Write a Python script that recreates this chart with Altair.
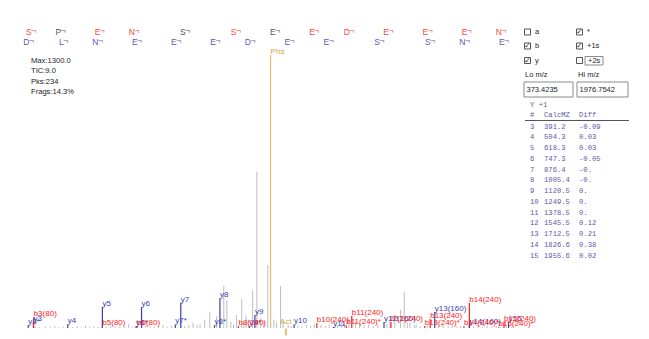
import altair as alt
import pandas as pd

# ---------------- spectrum header values ----------------
lo_mz, hi_mz = 373.4235, 1976.7542
max_intensity = 1300.0
stats_lines = ["Max:1300.0", "TIC:9.0", "Pks:234", "Frags:14.3%"]

# ---------------- y ions, charge +1 ----------------
y_num = [3, 4, 5, 6, 7, 8, 9, 10, 11, 12, 13, 14, 15]
y_calc = [391.2, 504.3, 618.3, 747.3, 876.4, 1005.4, 1120.5, 1249.5,
          1378.5, 1545.5, 1712.5, 1826.6, 1955.6]
y_diff = ["-0.09", "0.03", "0.03", "-0.05", "-0.", "-0.", "0.", "0.",
          "0.", "0.12", "0.21", "0.38", "0.02"]
y_residue = ["D", "L", "N", "E", "E", "E", "D", "E", "E", "S", "S", "N", "E"]

# ---------------- b ion ladder ----------------
b_mz = [392.1, 489.2, 618.2, 732.3, 899.3, 1066.3, 1195.3, 1324.4,
        1439.4, 1568.4, 1697.5, 1826.5, 1940.5]
b_residue = ["S", "P", "E", "N", "S", "S", "E", "E", "D", "E", "E", "E", "N"]
b_found = [1, 0, 1, 1, 0, 1, 0, 1, 1, 1, 1, 1, 1]

# ---------------- annotated peaks ----------------
ann_label = ["y3*", "y3", "b3(80)", "y4", "y5", "b5(80)", "y6*", "b6(80)", "y6",
             "y7*", "y7", "y8*", "y8", "b8(240)", "y9*", "y9", "y10", "b10(240)",
             "y11", "b11(240)*", "b11(240)", "y12(160)", "b12(240)", "b13(240)*",
             "b13(240)", "y13(160)", "b14(240)*", "b14(240)", "y14(160)",
             "b15(240)*", "b15(240)", "y15", "Phs"]
ann_mz = [374.2, 391.2, 392.1, 504.3, 618.3, 618.2, 729.3, 732.3, 747.3,
          858.4, 876.4, 987.4, 1005.4, 1066.3, 1102.5, 1120.5, 1249.5, 1324.4,
          1378.5, 1421.4, 1439.4, 1545.5, 1568.4, 1679.5,
          1697.5, 1712.5, 1808.5, 1826.5, 1826.6,
          1922.5, 1940.5, 1955.6, 1172.1]
ann_int = [14, 30, 52, 18, 101, 8, 9, 9, 100,
           17, 121, 12, 143, 10, 8, 62, 17, 24,
           5, 12, 57, 29, 29, 10,
           43, 76, 8, 119, 12,
           4, 30, 28, 1300]
ann_series = ["y", "y", "b", "y", "y", "b", "y", "b", "y",
              "y", "y", "y", "y", "b", "y", "y", "y", "b",
              "y", "b", "b", "y", "b", "b",
              "b", "y", "b", "b", "y",
              "b", "b", "y", "prec"]

# activation marker
act_mz = 1222.5

# ---------------- unassigned peaks ----------------
noise_mz = [398, 412, 430, 447, 462, 476, 489, 521, 536, 549, 563, 577, 590, 604,
            631, 646, 660, 676, 690, 705, 718, 761, 775, 790, 803, 818, 832, 846,
            889, 903, 917, 930, 940, 955, 972, 994, 1018, 1028, 1041, 1050, 1060,
            1077, 1084, 1091, 1101, 1113, 1127, 1140, 1150, 1163, 1183, 1192, 1205,
            1213, 1230, 1240, 1262, 1275, 1290, 1304, 1316, 1338, 1352, 1365, 1392,
            1406, 1416, 1430, 1452, 1465, 1480, 1494, 1510, 1525, 1555, 1565, 1581,
            1600, 1612, 1622, 1631, 1645, 1651, 1664, 1688, 1725, 1740, 1757, 1770,
            1785, 1798, 1840, 1855, 1870, 1885, 1900, 1915, 1930, 1948, 1965]
noise_int = [6, 4, 8, 5, 10, 4, 7, 5, 9, 4, 12, 6, 8, 5,
             7, 10, 5, 14, 8, 20, 6, 12, 7, 5, 9, 15, 6, 11,
             8, 14, 25, 12, 18, 40, 75, 55, 200, 135, 30, 18, 62,
             138, 25, 60, 40, 180, 745, 50, 30, 300, 40, 28, 200,
             30, 14, 10, 12, 8, 16, 10, 20, 14, 9, 18, 12,
             38, 25, 40, 30, 22, 12, 18, 10, 15, 20, 40, 62,
             86, 173, 25, 30, 12, 20, 8, 14, 10, 16, 8, 12,
             6, 10, 9, 14, 7, 10, 6, 12, 8, 10, 5]

# ---------------- styling ----------------
SANS = "Liberation Sans"
MONO = "Liberation Mono"
series_color = {"y": "#3f3fa6", "b": "#f02020", "prec": "#dcc07a"}
label_color = {"y": "#3c3cb0", "b": "#ff1a1a", "prec": "#d0a848"}
table_color = "#5a5aaa"
W, H = 487, 273           # plot area
ORIGIN = (28, 55)         # plot-area offset inside the page
CORNER = "\u00ac"         # fragment-boundary mark after each residue

x_scale = alt.Scale(domain=[lo_mz, hi_mz], nice=False, zero=False)
y_scale = alt.Scale(domain=[0, max_intensity], nice=False)

peaks = pd.DataFrame({"mz": noise_mz, "intensity": noise_int})
ann = pd.DataFrame({"label": ann_label, "mz": ann_mz, "intensity": ann_int,
                    "series": ann_series})
ann["pcolor"] = ann["series"].map(series_color)
ann["lcolor"] = ann["series"].map(label_color)

x_axis = alt.Axis(values=list(range(400, 2000, 100)), labelAlign="left",
                  labelOffset=-2, labelPadding=1, labelFontSize=7,
                  labelFont=SANS, labelColor="#333", tickSize=3,
                  tickColor="#555", domainColor="#555", grid=False,
                  title=None, labelFlush=False, labelOverlap=False,
                  labelBound=False)
y_axis = alt.Axis(values=[i * 130 for i in range(11)], labels=False,
                  tickSize=3, tickColor="#555", domainColor="#555",
                  grid=False, title=None)

X = alt.X("mz:Q", scale=x_scale, axis=None)
Y = alt.Y("intensity:Q", scale=y_scale, axis=None)

noise_layer = alt.Chart(peaks).mark_rule(color="#bdbdbd", strokeWidth=1).encode(
    x=alt.X("mz:Q", scale=x_scale, axis=x_axis),
    y=alt.Y("intensity:Q", scale=y_scale, axis=y_axis),
    y2=alt.datum(0),
)

ann_lines = alt.Chart(ann).mark_rule(strokeWidth=1.2).encode(
    x=X, y=Y, y2=alt.datum(0), color=alt.Color("pcolor:N", scale=None)
)

label_base = alt.Chart(ann).mark_text(
    align="left", baseline="alphabetic", font=SANS, fontSize=8, dx=0, dy=-1
).encode(x=X, y=Y, text="label:N", color=alt.Color("lcolor:N", scale=None))
labels_y = label_base.transform_filter(alt.datum.series == "y")
labels_b = label_base.transform_filter(alt.datum.series == "b")
labels_p = label_base.transform_filter(alt.datum.series == "prec")

act_df = pd.DataFrame({"mz": [act_mz], "intensity": [0], "label": ["Act"]})
act_text = alt.Chart(act_df).mark_text(
    align="center", baseline="alphabetic", font=SANS, fontSize=8,
    color=label_color["prec"], dy=-4
).encode(x=X, y=Y, text="label:N")
act_tick = alt.Chart(act_df).mark_tick(
    orient="vertical", color="#d8a830", thickness=2, size=7, yOffset=4
).encode(x=X, y=Y)

# sequence ladders above the plot, each residue ending at its ion m/z
b_seq = pd.DataFrame({"mz": b_mz, "txt": b_residue,
                      "col": ["#f04848" if f else "#555555" for f in b_found]})
y_seq = pd.DataFrame({"mz": y_calc, "txt": y_residue,
                      "col": ["#5a5ab8"] * len(y_calc)})


def ladder(df, row_y, shift):
    letters = alt.Chart(df).mark_text(
        align="right", baseline="middle", font=SANS, fontSize=8.5, dx=shift
    ).encode(x=X, y=alt.value(row_y - ORIGIN[1]), text="txt:N",
             color=alt.Color("col:N", scale=None))
    corners = alt.Chart(df).mark_text(
        align="left", baseline="middle", font=SANS, fontSize=8.5,
        dx=shift - 0.5, dy=-1.5, text=CORNER
    ).encode(x=X, y=alt.value(row_y - ORIGIN[1]),
             color=alt.Color("col:N", scale=None))
    return letters + corners


b_letters = ladder(b_seq, 32, -2)
y_letters = ladder(y_seq, 42, -4)

spectrum = alt.layer(noise_layer, ann_lines, labels_y, labels_b, labels_p,
                     act_text, act_tick, b_letters, y_letters)

# ---------------- side panel and info text (pixel layout) ----------------
def px(v):
    return v - ORIGIN[0]


def py(v):
    return v - ORIGIN[1]


PX = alt.X("px:Q", scale=None, axis=None)
PY = alt.Y("py:Q", scale=None, axis=None)

# stats in the upper-left corner of the plot
stats_df = pd.DataFrame({"px": [px(31)] * len(stats_lines),
                         "py": [py(61 + 10.4 * i) for i in range(len(stats_lines))],
                         "txt": stats_lines})
stats_text = alt.Chart(stats_df).mark_text(
    align="left", baseline="middle", font=SANS, fontSize=7.6, color="#222"
).encode(x=PX, y=PY, text="txt:N")

# ion-type check boxes
box_names = ["a", "*", "b", "+1s", "y", "+2s"]
box_checked = [False, True, True, True, True, False]
col_x = [527.5, 579.5]
row_y = [32, 46, 60.5]
boxes = pd.DataFrame({
    "name": box_names,
    "checked": box_checked,
    "px": [px(col_x[i % 2]) for i in range(6)],
    "py": [py(row_y[i // 2]) for i in range(6)],
})
boxes["lx"] = boxes["px"] + 7.5
boxes.loc[boxes["name"] == "+2s", "lx"] += 1
box_marks = alt.Chart(boxes).mark_square(
    size=36, fill="white", stroke="#555", strokeWidth=1, opacity=1
).encode(x=PX, y=PY)
check_marks = alt.Chart(boxes).transform_filter(alt.datum.checked).mark_text(
    text="\u2713", font="DejaVu Sans", fontSize=7.5, color="#222",
    baseline="middle", align="center"
).encode(x=PX, y=PY)
box_labels = alt.Chart(boxes).mark_text(
    align="left", baseline="middle", font=SANS, fontSize=7.5, color="#222"
).encode(x=alt.X("lx:Q", scale=None, axis=None), y=PY, text="name:N")

# frames: m/z inputs and the +2s outline
frames = pd.DataFrame({
    "px": [px(524), px(577), px(585)],
    "px2": [px(573), px(628), px(603)],
    "py": [py(82), py(82), py(56.5)],
    "py2": [py(97), py(97), py(65)],
})
frame_marks = alt.Chart(frames).mark_rect(
    fill="white", fillOpacity=0, stroke="#8a8a8a", strokeWidth=1
).encode(x=PX, x2="px2:Q", y=PY, y2="py2:Q")

ui_text = pd.DataFrame({
    "px": [px(525), px(578), px(526.5), px(579.5)],
    "py": [py(75), py(75), py(90), py(90)],
    "txt": ["Lo m/z", "Hi m/z", f"{lo_mz:.4f}", f"{hi_mz:.4f}"],
})
ui_marks = alt.Chart(ui_text).mark_text(
    align="left", baseline="middle", font=SANS, fontSize=7.5, color="#222"
).encode(x=PX, y=PY, text="txt:N")

# fragment table
tbl_rows = []
tbl_rows.append({"px": px(530), "py": py(105), "txt": "Y +1"})
for x0, t in zip([530, 544, 579], ["#", "CalcMZ", "Diff"]):
    tbl_rows.append({"px": px(x0), "py": py(115), "txt": t})
for i, (n, c, d) in enumerate(zip(y_num, y_calc, y_diff)):
    yy = py(126.5 + 10.75 * i)
    tbl_rows.append({"px": px(530), "py": yy, "txt": str(n)})
    tbl_rows.append({"px": px(544), "py": yy, "txt": f"{c:.1f}"})
    tbl_rows.append({"px": px(579), "py": yy, "txt": d})
tbl_df = pd.DataFrame(tbl_rows)
tbl_marks = alt.Chart(tbl_df).mark_text(
    align="left", baseline="middle", font=MONO, fontSize=7.2, color=table_color
).encode(x=PX, y=PY, text="txt:N")
tbl_line = alt.Chart(pd.DataFrame({"px": [px(525)], "px2": [px(629)],
                                   "py": [py(120.5)]})).mark_rule(
    color="#555", strokeWidth=1
).encode(x=PX, x2="px2:Q", y=PY)

panel = alt.layer(stats_text, frame_marks, box_marks, check_marks, box_labels,
                  ui_marks, tbl_marks, tbl_line)

chart = alt.layer(spectrum, panel).resolve_scale(
    x="independent", y="independent"
).properties(
    width=W, height=H,
    autosize=alt.AutoSizeParams(type="none"),
    padding={"left": ORIGIN[0], "top": ORIGIN[1],
             "right": 649 - ORIGIN[0] - W, "bottom": 339 - ORIGIN[1] - H},
    background="white",
).configure_view(stroke=None)

chart.save("out.html", embed_options={"renderer": "svg", "actions": False})
